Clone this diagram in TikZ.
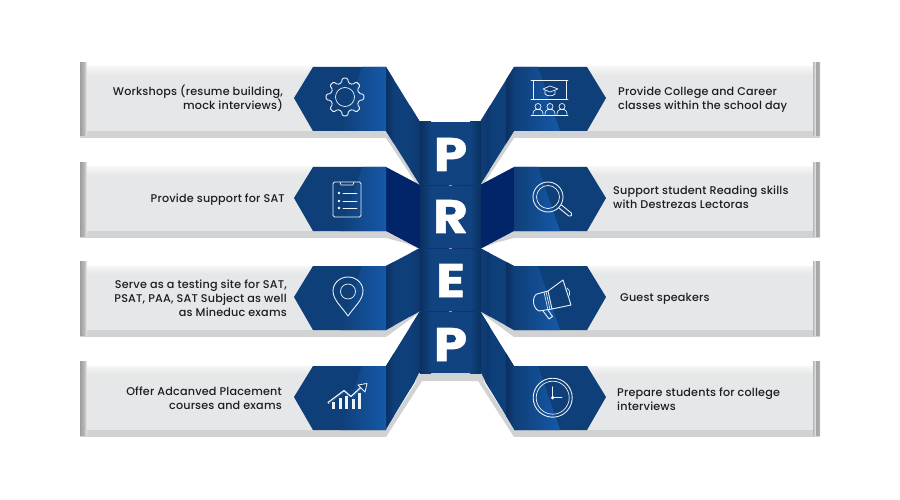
\documentclass[tikz,border=0pt]{standalone}
\usepackage{fontspec}
\setmainfont{Poppins}
\newfontfamily\medf[LetterSpace=1.5]{Poppins Medium}
\newfontfamily\bigf[FakeBold=1.1,FakeStretch=1.14]{Poppins Bold}
\definecolor{bluebase}{HTML}{0F3F78}
\definecolor{bluelight}{HTML}{1559A8}
\definecolor{bluedark}{HTML}{0D3670}
\definecolor{coledge}{HTML}{0B3060}
\definecolor{colmid}{HTML}{10437F}
\definecolor{navy}{HTML}{02256A}
\definecolor{barbody}{HTML}{E6E7E8}
\definecolor{barshadow}{HTML}{D1D2D3}
\definecolor{txt}{HTML}{1E1E20}
\tikzset{
  lefttxt/.style={anchor=east,align=right,text=txt,inner sep=0pt,font=\medf\fontsize{11.2}{14}\selectfont},
  righttxt/.style={anchor=west,align=left,text=txt,inner sep=0pt,font=\medf\fontsize{11.2}{14}\selectfont},
  letter/.style={anchor=base,text=white,inner sep=0pt,font=\bigf\fontsize{47}{47}\selectfont},
  icon/.style={draw=white!92!bluelight,line width=0.9pt,line join=round,line cap=round},
}
% one bar (grey body, stripe, shadow, blue arrow) at top y = #1
\newcommand{\barshape}[1]{%
  \begin{scope}[shift={(0,#1)}]
    \fill[barshadow] (80,60) rectangle (386,71);
    \fill[barbody] (86,0) rectangle (320,64);
    \shade[top color=white!60!barbody,bottom color=barbody] (86,0) rectangle (320,8);
    \shade[left color=black!38,right color=black!28] (80,-4.5) rectangle (84,69);
    \shade[left color=black!28,right color=black!6] (84,-4.5) rectangle (87,69);
    \fill[black!45,opacity=.5] (294,31) -- (313,64) -- (319,64) -- (299,31) -- cycle;
    \fill[bluebase] (294,31) -- (313,0) -- (386,0) -- (386,64) -- (313,64) -- cycle;
    \shade[left color=bluebase,right color=bluelight] (362,0) -- (386,0) -- (386,64) -- (340,64) -- cycle;
  \end{scope}}
\newcommand{\foldshape}[1]{%
  \begin{scope}
    \clip #1;
    \fill[bluebase] (386,60) rectangle (421,440);
    \shade[left color=coledge,right color=bluebase] (386,60) rectangle (394,440);
    \shade[left color=bluebase,right color=bluedark] (410,60) rectangle (421,440);
  \end{scope}}
\newcommand{\sidehalf}{%
  % fold shadows
  \fill[barshadow] (386,131) -- (386,138) -- (417,185) -- (420,185) -- cycle;
  \fill[barshadow] (386,231) -- (386,238) -- (405,243) -- (420,249) -- cycle;
  \fill[barshadow] (386,330) -- (386,337) -- (420,312) -- (420,311) -- cycle;
  \fill[barshadow] (386,429) -- (386,437) -- (422,381) -- (422,373) -- cycle;
  \foldshape{(386,67) -- (420,122) -- (420,185) -- (386,131) -- cycle}
  \fill[navy] (386,167) -- (420,185) -- (420,249) -- (386,231) -- cycle;
  \foldshape{(386,266) -- (420,248) -- (420,311) -- (386,330) -- cycle}
  \foldshape{(386,366) -- (420,311) -- (420,373) -- (386,429) -- cycle}
  \barshape{67}\barshape{167}\barshape{266}\barshape{366}}
\begin{document}
\begin{tikzpicture}[x=1pt,y=-1pt]
\useasboundingbox (0,0) rectangle (900,500);
\fill[white] (0,0) rectangle (900,500);
\sidehalf
\begin{scope}[cm={-1,0,0,1,(900pt,0pt)}]
\sidehalf
\end{scope}
% central column
\fill[barshadow] (419,373) -- (481,373) -- (485,381) -- (415,381) -- cycle;
\fill[colmid] (420,122) rectangle (481,373);
\shade[left color=coledge,right color=colmid] (420,122) rectangle (431,373);
\shade[left color=colmid,right color=coledge] (470,122) rectangle (481,373);
\foreach \yy in {185,248,311}{
  \draw[bluedark,line width=.5pt] (420,\yy) -- (481,\yy);
  \draw[white!50!bluebase,line width=.5pt] (448.5,\yy) -- (451.5,\yy);
}
\node[letter] (l1) at (450.5,171) {P};
\node[letter] (l2) at (450.5,233) {R};
\node[letter] (l3) at (450.5,297) {E};
\node[letter] (l4) at (450.5,361) {P};
% texts
\node[lefttxt] (t1) at (283,98.5) {Workshops (resume building,\\mock interviews)};
\node[lefttxt] (t2) at (285,199.5) {Provide support for SAT};
\node[lefttxt] (t3) at (287,298.5) {Serve as a testing site for SAT,\\PSAT, PAA, SAT Subject as well\\as Mineduc exams};
\node[lefttxt] (t4) at (282,398.5) {Offer Adcanved Placement\\courses and exams};
\node[righttxt] (t5) at (618,99.5) {Provide College and Career\\classes within the school day};
\node[righttxt] (t6) at (613,197.5) {Support student Reading skills\\with Destrezas Lectoras};
\node[righttxt] (t7) at (620,298.5) {Guest speakers};
\node[righttxt] (t8) at (617,399.5) {Prepare students for college\\interviews};
% gear
\begin{scope}[shift={(345,97)}]
  \draw[icon,rounded corners=1.2pt] (-14:14.5)
    \foreach \a in {0,45,...,315}{ -- (\a-14:14.5) -- (\a-8:19) -- (\a+8:19) -- (\a+14:14.5) } -- cycle;
  \draw[icon,line width=.7pt] (0,0) circle (9.5);
\end{scope}
% clipboard
\draw[icon,rounded corners=1.5pt] (333,182) rectangle (361,217);
\draw[icon,line width=.7pt] (340,182) -- (341,185) -- (353,185) -- (354,182);
\foreach \yy in {193,201,208}{
  \fill[white] (339,\yy) circle (1.3);
  \draw[icon,line width=.6pt] (343,\yy) -- (357,\yy);
}
% pin
\draw[icon] (348,316) .. controls (342,307) and (333,300) .. (333,291)
  .. controls (333,283) and (340,277) .. (348,277)
  .. controls (356,277) and (363,283) .. (363,291)
  .. controls (363,300) and (354,307) .. (348,316) -- cycle;
\draw[icon,line width=.7pt] (348,291.5) circle (7.5);
% chart
\foreach \xa/\ya in {332/402,338.5/398,345/396,351.5/399,358/393}{
  \fill[white!92!bluelight] (\xa,\ya) rectangle (\xa+3.2,409);
}
\draw[white!92!bluelight,line width=2pt,line join=round] (328,403) -- (344,391) -- (351,397) -- (365,384);
\draw[bluebase,line width=.7pt,line join=round] (329,403) -- (344,392) -- (351,398) -- (364,386);
\draw[icon,line width=.8pt,fill=bluebase] (358,385) -- (367,383.5) -- (365,392) -- cycle;
% classroom board
\draw[icon] (531,80.5) -- (568,80.5);
\draw[icon] (531,99) -- (568,99);
\draw[icon] (533,80.5) -- (533,99) (566,80.5) -- (566,99);
\draw[icon,line width=.7pt] (543,89) -- (550,86) -- (558,89) -- (550,92) -- cycle;
\draw[icon,line width=.7pt] (545,90.5) -- (545,94) .. controls (547,96.5) and (553,96.5) .. (555,94) -- (555,90.5);
\foreach \xx in {538,550,562}{
  \draw[icon,line width=.7pt] (\xx,106.5) circle (3);
  \draw[icon,line width=.7pt] (\xx-5,114.5) .. controls (\xx-5,110.5) and (\xx-3,110) .. (\xx-2,109.5) -- (\xx+2,109.5) .. controls (\xx+3,110) and (\xx+5,110.5) .. (\xx+5,114.5);
}
\draw[icon] (531,115.5) -- (568,115.5);
% magnifier
\draw[icon] (548,197) circle (15);
\draw[icon,line width=.7pt] (548,197) circle (11.5);
\draw[icon,rounded corners=1.5pt] (559,208) -- (570,217) -- (572.5,214) -- (561.5,205);
% megaphone
\draw[icon] (548,291) -- (563,280) -- (571,305) -- (552,309) -- cycle;
\draw[icon] (548,291) -- (537,294) .. controls (532,296) and (532,308) .. (539,311) -- (552,309);
\draw[icon,line width=.6pt] (544,292) -- (548,310) (546,291.5) -- (550,309.5);
\draw[icon] (543,311) -- (549,319) -- (552.5,316.5) -- (548,310);
\draw[icon,line width=.7pt] (567,288) .. controls (570,290) and (570,294) .. (569,296);
% clock
\draw[icon] (552.7,397.7) circle (19.5);
\draw[icon,line width=.7pt] (552.7,397.7) circle (16.5);
\draw[icon,line width=.7pt] (552.7,386.7) -- (552.7,397.7) -- (562,397.7);
\fill[white] (552.7,397.7) circle (1.8);
\end{tikzpicture}
\end{document}
